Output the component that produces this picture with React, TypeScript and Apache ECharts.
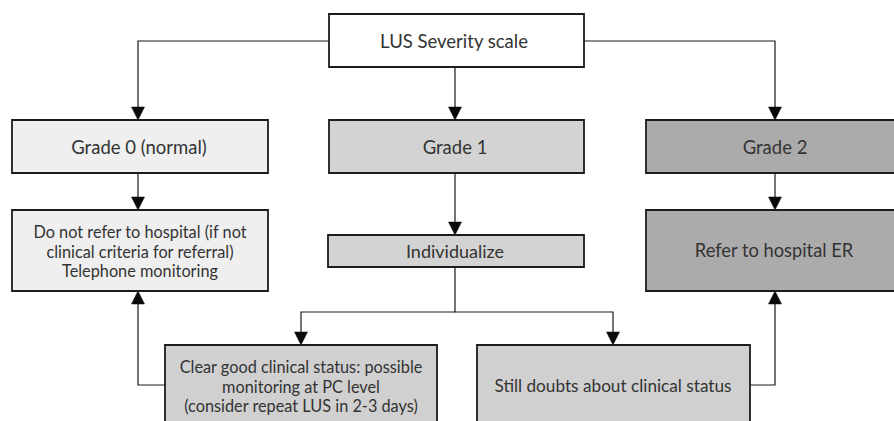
import React, { useEffect, useRef } from "react";
import * as echarts from "echarts";

// Node texts (content)
const nodeIds = ["lus", "g0", "g1", "g2", "noRefer", "indiv", "referER", "clearGood", "doubts"];
const nodeTexts = [
  "LUS Severity scale",
  "Grade 0 (normal)",
  "Grade 1",
  "Grade 2",
  "Do not refer to hospital (if not\nclinical criteria for referral)\nTelephone monitoring",
  "Individualize",
  "Refer to hospital ER",
  "Clear good clinical status: possible\nmonitoring at PC level\n(consider repeat LUS in 2-3 days)",
  "Still doubts about clinical status",
];
// Edges: from -> to
const edgeFrom = ["lus", "lus", "lus", "g0", "g1", "g2", "indiv", "indiv", "clearGood", "doubts"];
const edgeTo = ["g0", "g1", "g2", "noRefer", "indiv", "referER", "clearGood", "doubts", "noRefer", "referER"];

// Layout (positions / sizes / styles)
const layout: Record<string, { x: number; y: number; w: number; h: number; fill: string; ty?: number; fs: number }> = {
  lus: { x: 329, y: 14, w: 255, h: 53, fill: "#ffffff", fs: 18.5 },
  g0: { x: 12, y: 120, w: 256, h: 53, fill: "#efefef", fs: 18.5 },
  g1: { x: 329, y: 120, w: 255, h: 53, fill: "#d3d3d3", fs: 18.5 },
  g2: { x: 646, y: 120, w: 260, h: 53, fill: "#ababab", fs: 18.5 },
  noRefer: { x: 12, y: 210, w: 256, h: 81, fill: "#efefef", ty: 251, fs: 16.3 },
  indiv: { x: 328, y: 235, w: 256, h: 32, fill: "#d3d3d3", fs: 18 },
  referER: { x: 646, y: 210, w: 260, h: 81, fill: "#ababab", ty: 250, fs: 18.3 },
  clearGood: { x: 165, y: 345, w: 272, h: 90, fill: "#d0d0d0", ty: 386, fs: 16.3 },
  doubts: { x: 477, y: 345, w: 273, h: 90, fill: "#d0d0d0", ty: 385, fs: 17.2 },
};
const textCx: Record<string, number> = {
  lus: 454, g0: 139, g1: 455, g2: 775, noRefer: 140, indiv: 455, referER: 774, clearGood: 301, doubts: 613,
};
// Connector routes
const routes: number[][][] = [
  [[329, 41], [138, 41], [138, 120]],
  [[455, 67], [455, 120]],
  [[584, 41], [775, 41], [775, 120]],
  [[138, 173], [138, 210]],
  [[455, 173], [455, 235]],
  [[455, 267], [455, 312], [301, 312], [301, 345]],
  [[455, 312], [613, 312], [613, 345]],
  [[165, 385], [138, 385], [138, 291]],
  [[750, 385], [775, 385], [775, 291]],
  [[775, 173], [775, 210]],
];

function arrowHead(tip: number[], prev: number[]) {
  const dx = tip[0] - prev[0];
  const dy = tip[1] - prev[1];
  const len = Math.hypot(dx, dy) || 1;
  const ux = dx / len, uy = dy / len;
  const L = 13, W = 6.5;
  const bx = tip[0] - ux * L, by = tip[1] - uy * L;
  return [
    [tip[0], tip[1]],
    [bx - uy * W, by + ux * W],
    [bx + uy * W, by - ux * W],
  ];
}

export default function App() {
  const ref = useRef<HTMLDivElement>(null);
  useEffect(() => {
    document.body.style.margin = "0";
    if (!ref.current) return;
    const chart = echarts.init(ref.current, null, { renderer: "svg" });
    const elements: any[] = [];
    // connectors
    edgeFrom.forEach((f, i) => {
      const pts = routes[i];
      const tip = pts[pts.length - 1];
      const prev = pts[pts.length - 2];
      const ah = arrowHead(tip, prev);
      const shortened = pts.slice(0, -1).concat([[
        (ah[1][0] + ah[2][0]) / 2,
        (ah[1][1] + ah[2][1]) / 2,
      ]]);
      elements.push({
        type: "polyline",
        shape: { points: shortened },
        style: { stroke: "#1a1a1a", lineWidth: 1.2, fill: "none" },
        z: 1,
      });
      elements.push({
        type: "polygon",
        shape: { points: ah },
        style: { fill: "#0a0a0a", stroke: "#0a0a0a", lineWidth: 0.5 },
        z: 1,
      });
      void f;
      void edgeTo[i];
    });
    // boxes
    nodeIds.forEach((id, i) => {
      const b = layout[id];
      elements.push({
        type: "rect",
        shape: { x: b.x, y: b.y, width: b.w, height: b.h },
        style: { fill: b.fill, stroke: "#1c1c1c", lineWidth: 1.8 },
        z: 2,
      });
      elements.push({
        type: "text",
        x: textCx[id],
        y: b.ty !== undefined ? b.ty : b.y + b.h / 2,
        style: {
          text: nodeTexts[i],
          fill: "#333333",
          font: `${b.fs}px Lato, 'Open Sans', sans-serif`,
          align: "center",
          verticalAlign: "middle",
          lineHeight: 19.2,
        },
        z: 3,
      });
    });
    chart.setOption({
      animation: false,
      backgroundColor: "#ffffff",
      graphic: { elements },
    });
    return () => chart.dispose();
  }, []);
  return <div ref={ref} style={{ width: 894, height: 421 }} />;
}
